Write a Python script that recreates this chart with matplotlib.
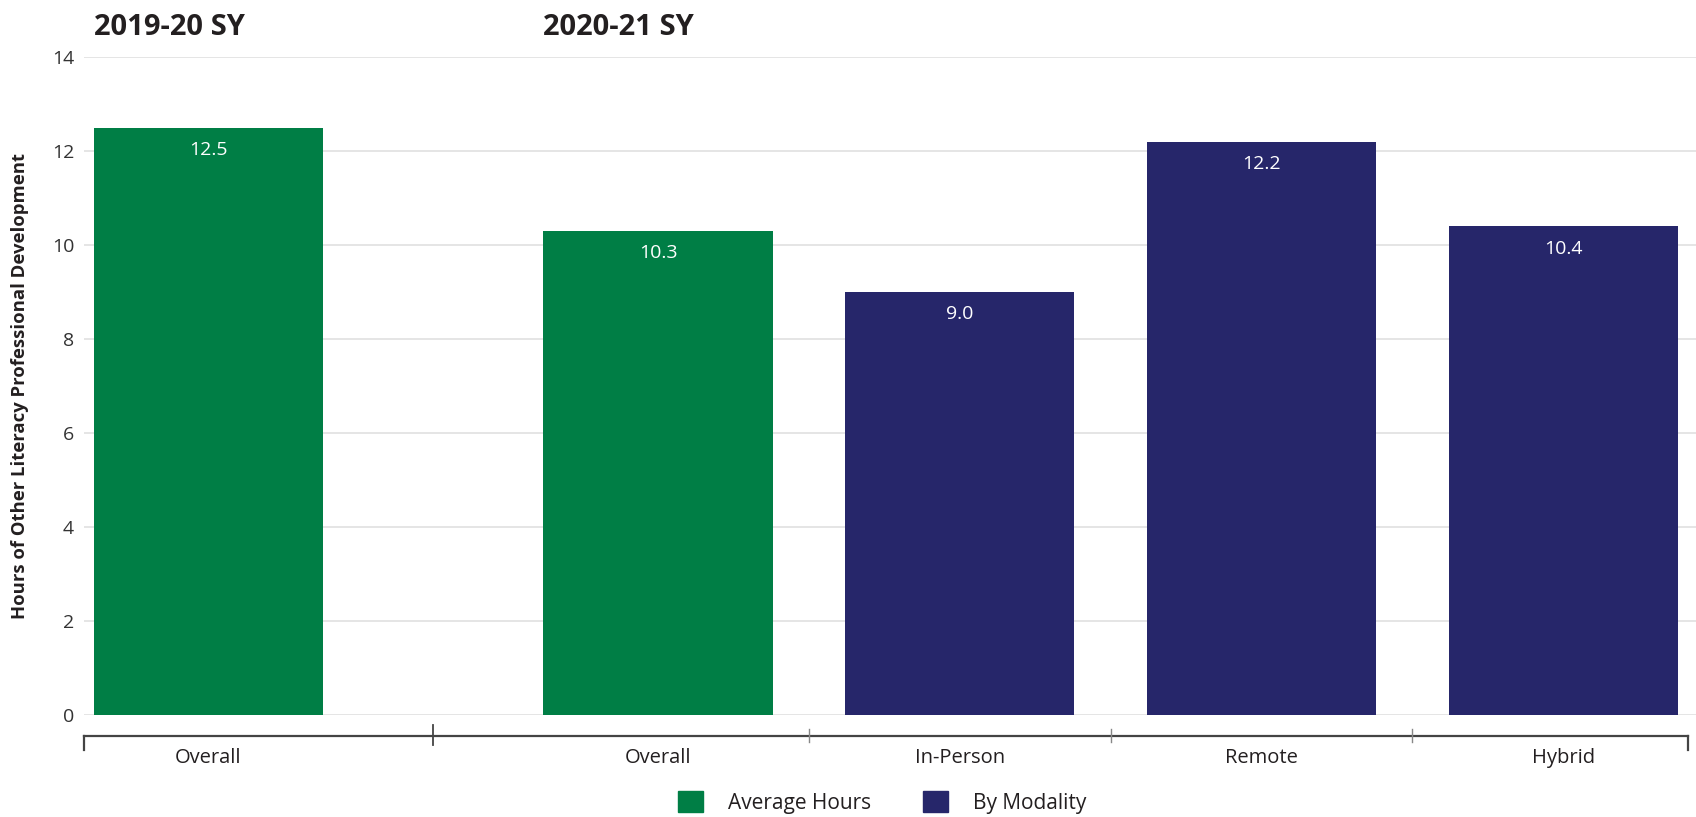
import matplotlib.pyplot as plt
from matplotlib.patches import Patch

# Horas de desenvolvimento profissional por ano escolar / modalidade
categorias = ['Overall', 'Overall', 'In-Person', 'Remote', 'Hybrid']
horas = [12.5, 10.3, 9.0, 12.2, 10.4]
series = ['Average Hours', 'Average Hours', 'By Modality', 'By Modality', 'By Modality']
anos = ['2019-20 SY', '2020-21 SY']
yticks = [0, 2, 4, 6, 8, 10, 12, 14]

cores = {'Average Hours': '#007E45', 'By Modality': '#26266A'}
cor_texto = '#231F20'

plt.rcParams['font.family'] = ['Open Sans', 'DejaVu Sans']

fig = plt.figure(figsize=(16.96, 8.17), dpi=100)
ax = fig.add_axes([0.0495, 0.1248, 0.9505, 0.8051])

# posições: 1 barra no primeiro ano, 4 no segundo, com um espaço extra entre os grupos
gap = 0.49
pos = [0, 1 + gap, 2 + gap, 3 + gap, 4 + gap]
largura = 0.76
pad = 0.4125

barras = ax.bar(pos, horas, width=largura, color=[cores[s] for s in series], zorder=2)

for x, v in zip(pos, horas):
    ax.annotate(f'{v:.1f}', xy=(x, v), xytext=(0, -16), textcoords='offset points',
                ha='center', va='center', color='white', fontsize=14)

ax.set_xlim(pos[0] - pad, pos[-1] + 0.44)
ax.set_ylim(0, 14)
ax.set_yticks(yticks)
ax.set_yticklabels([str(t) for t in yticks], fontsize=14, color='#333333')
ax.grid(True, axis='y', color='#E3E3E3', linewidth=1.3)
ax.set_axisbelow(True)
for s in ax.spines.values():
    s.set_visible(False)
ax.tick_params(axis='y', length=0, pad=7)

ax.set_xticks(pos)
ax.set_xticklabels(categorias, fontsize=14.5, color=cor_texto)
ax.tick_params(axis='x', length=0, pad=24)

ax.set_ylabel('Hours of Other Literacy Professional Development', fontsize=13.3,
              fontweight='bold', color=cor_texto)
ax.yaxis.set_label_coords(-0.034, 0.5)

# eixo x desenhado à mão, abaixo da linha do zero
tr = ax.get_xaxis_transform()
y_eixo = -0.0319
x_ini, x_fim = pos[0] - pad, pos[-1] + pad
ax.plot([x_ini, x_fim], [y_eixo, y_eixo], transform=tr, color='#444444', lw=1.6, clip_on=False)
for xe in (x_ini, x_fim):
    ax.plot([xe, xe], [y_eixo, -0.0532], transform=tr, color='#444444', lw=1.6, clip_on=False)
divisor = (pos[0] + pos[1]) / 2
ax.plot([divisor, divisor], [-0.0152, -0.0456], transform=tr, color='#444444', lw=1.3, clip_on=False)
for a, b in zip(pos[1:-1], pos[2:]):
    m = (a + b) / 2
    ax.plot([m, m], [-0.0213, -0.0411], transform=tr, color='#888888', lw=1.0, clip_on=False)

# títulos dos anos alinhados à esquerda das barras
for ano, x in zip(anos, [pos[0], pos[1]]):
    ax.text(x - largura / 2, 1.045, ano, transform=tr, ha='left', va='center',
            fontsize=21, fontweight='bold', color=cor_texto)

handles = [Patch(color=cores[k], label=k) for k in cores]
fig.legend(handles=handles, loc='upper center', bbox_to_anchor=(0.52, 0.055), ncol=2,
           frameon=False, fontsize=15, handlelength=1.2, handleheight=1.2,
           columnspacing=2.5, handletextpad=1.2, labelcolor=cor_texto)

fig.savefig('out.png', dpi=100, facecolor='white')
